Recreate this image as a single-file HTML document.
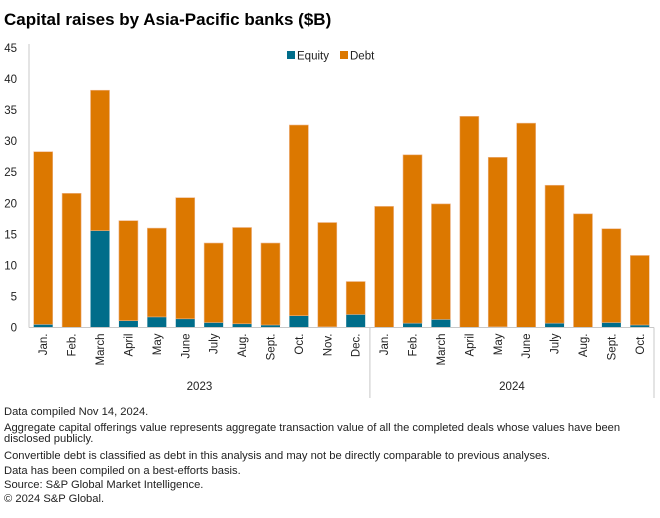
<!DOCTYPE html>
<html><head><meta charset="utf-8"><style>
html,body{margin:0;padding:0;background:#fff;}
svg{display:block;font-family:"Liberation Sans",sans-serif;}
</style></head><body>
<svg id="chart" width="660" height="518" viewBox="0 0 660 518" xmlns="http://www.w3.org/2000/svg">
<text x="4" y="25" font-size="17" font-weight="bold" fill="#000">Capital raises by Asia-Pacific banks ($B)</text>
<g>
<rect x="287" y="51" width="8" height="8" fill="#006D8A"/>
<text x="297" y="59.5" font-size="11.5" fill="#222">Equity</text>
<rect x="340" y="51" width="8" height="8" fill="#DC7800"/>
<text x="350" y="59.5" font-size="11.5" fill="#222">Debt</text>
</g>
<g id="yaxis"></g>
<g id="bars"></g>
<g id="xaxis"></g>
<g font-size="11.2" fill="#222">
<text x="4" y="415">Data compiled Nov 14, 2024.</text>
<text x="4" y="431">Aggregate capital offerings value represents aggregate transaction value of all the completed deals whose values have been</text>
<text x="4" y="442">disclosed publicly.</text>
<text x="4" y="459">Convertible debt is classified as debt in this analysis and may not be directly comparable to previous analyses.</text>
<text x="4" y="474">Data has been compiled on a best-efforts basis.</text>
<text x="4" y="488">Source: S&amp;P Global Market Intelligence.</text>
<text x="4" y="502">© 2024 S&amp;P Global.</text>
</g>
</svg>
<script>
const months = ["Jan.","Feb.","March","April","May","June","July","Aug.","Sept.","Oct.","Nov.","Dec.","Jan.","Feb.","March","April","May","June","July","Aug.","Sept.","Oct."];
const years = ["2023","2024"];
const yearCounts = [12,10];
const equity = [0.5,0,15.6,1.1,1.7,1.4,0.8,0.6,0.4,1.9,0.1,2.1, 0,0.7,1.3,0,0.1,0,0.7,0,0.8,0.4];
const debt = [27.8,21.6,22.6,16.1,14.3,19.5,12.8,15.5,13.2,30.7,16.8,5.3, 19.5,27.1,18.6,34.0,27.3,32.9,22.2,18.3,15.1,11.2];
const yTicks = [0,5,10,15,20,25,30,35,40,45];

const NS="http://www.w3.org/2000/svg";
const x0=29, x1=654, yBase=327.5, yTop=48, yMax=45;
const step=(x1-x0)/months.length, bw=19;
const y=v=>yBase-(v/yMax)*(yBase-yTop);
const xc=i=>x0+step*(i+0.5);
function mk(tag,attrs,parent){const e=document.createElementNS(NS,tag);for(const k in attrs)e.setAttribute(k,attrs[k]);parent.appendChild(e);return e;}
const ya=document.getElementById('yaxis'), bars=document.getElementById('bars'), xa=document.getElementById('xaxis');
yTicks.forEach(t=>{
  const tx=mk('text',{x:17,y:y(t)+4,'font-size':11.5,'text-anchor':'end',fill:'#222'},ya);
  tx.textContent=t;
  
  
});
const yl=mk('line',{x1:x0,y1:yTop-4,x2:x0,y2:yBase,stroke:'#c8c8c8','stroke-width':1},ya);


months.forEach((m,i)=>{
  const e=mk('rect',{x:xc(i)-bw/2,y:y(equity[i]),width:bw,height:yBase-y(equity[i]),fill:'#006D8A'},bars);
  
  
  const d=mk('rect',{x:xc(i)-bw/2,y:y(equity[i]+debt[i]),width:bw,height:y(equity[i])-y(equity[i]+debt[i]),fill:'#DC7800',stroke:'#eeb58a','stroke-width':0.6},bars);
  
  
  const t=mk('text',{x:0,y:0,'font-size':11.5,'text-anchor':'end',fill:'#222',transform:`translate(${xc(i)+4},${yBase+6}) rotate(-90)`},xa);
  t.textContent=m;
  
  
});
const xl=mk('line',{x1:x0,y1:yBase,x2:x1,y2:yBase,stroke:'#c8c8c8','stroke-width':1},xa);


let start=0;
years.forEach((yr,k)=>{
  const end=start+yearCounts[k];
  const sx=x0+step*end;
  const sep=mk('line',{x1:sx,y1:yBase,x2:sx,y2:398,stroke:'#c8c8c8','stroke-width':1},xa);
  
  
  const t=mk('text',{x:x0+step*(start+end)/2,y:390,'font-size':11.5,'text-anchor':'middle',fill:'#222'},xa);
  t.textContent=yr;
  
  
  start=end;
});
</script>
</body></html>
